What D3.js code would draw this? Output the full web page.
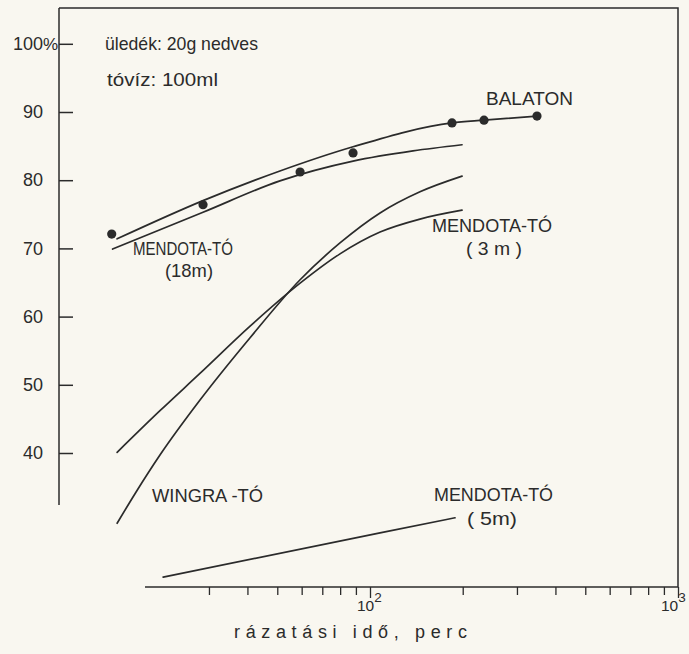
<!DOCTYPE html>
<html>
<head>
<meta charset="utf-8">
<script src="https://cdn.jsdelivr.net/npm/d3@7"></script>
<style>
  html, body { margin: 0; padding: 0; background: #f9f7f0; }
  svg { display: block; }
  text { font-family: "Liberation Sans", Arial, sans-serif; fill: #2b2b2b; }
</style>
</head>
<body>
<svg id="chart" width="689" height="654"></svg>
<script>
// Shaking time (minutes) and dissolved share (%) for each lake sediment
const balatonTime = [14.5, 28.7, 59.3, 88.1, 184.6, 234.5, 348.5];
const balatonPct  = [72.1, 76.4, 81.2, 84.0, 88.4, 88.8, 89.4];

const balatonCurveTime = [15.1, 28.7, 51.0, 88.1, 184.6, 234.5, 348.5];
const balatonCurvePct  = [71.4, 77.0, 81.35, 84.9, 88.4, 88.8, 89.4];

const mendota18Time = [14.6, 28.7, 51.0, 88.1, 137.9, 199];
const mendota18Pct  = [69.9, 75.3, 79.9, 82.8, 84.3, 85.2];

const mendota3Time = [15.1, 20.8, 28.1, 40.8, 59.3, 79.9, 107.8, 145.3, 199];
const mendota3Pct  = [40.1, 46.2, 51.7, 58.6, 64.9, 69.2, 72.4, 74.3, 75.6];

const wingraTime = [15.1, 17.3, 20.8, 28.1, 40.8, 59.3, 79.9, 107.8, 145.3, 199];
const wingraPct  = [29.7, 34.1, 39.7, 47.8, 56.9, 65.4, 70.8, 75.2, 78.3, 80.6];

const mendota5Time = [21.3, 107.8, 188.8];
const mendota5Pct  = [21.8, 28.3, 30.5];

const yTicks = [40, 50, 60, 70, 80, 90, 100];
const xTicks = [30, 40, 50, 60, 70, 80, 90, 100, 200, 300, 400, 500, 600, 700, 800, 900, 1000];
const xLabelExp = { 100: "2", 1000: "3" };
const timeAxisStart = 18.6;

const ink = "#2b2b2b";
const svg = d3.select("#chart");

const x = d3.scaleLog().domain([10, 1000]).range([62, 678]);
const y = d3.scaleLinear().domain([20, 100]).range([589.4, 43.8]);

const frameLeft = 59, frameTop = 8, frameRight = 678, axisY = 587, leftAxisBottom = 505;

// frame: top edge and right edge
svg.append("path")
  .attr("d", `M${frameLeft},${frameTop}H${frameRight}V${axisY}`)
  .attr("fill", "none").attr("stroke", ink).attr("stroke-width", 1.5);

// y axis
const yAxis = svg.append("g").attr("transform", `translate(${frameLeft},0)`)
  .call(d3.axisLeft(y).tickValues(yTicks).tickSizeInner(-14).tickSizeOuter(0).tickPadding(16)
    .tickFormat(d => d === 100 ? "100" : d));
yAxis.select(".domain").remove();
yAxis.append("line").attr("x1", 0).attr("x2", 0).attr("y1", frameTop).attr("y2", leftAxisBottom)
  .attr("stroke", ink).attr("stroke-width", 1.5);
yAxis.selectAll(".tick line").attr("stroke", ink).attr("stroke-width", 1.5);
yAxis.selectAll(".tick text").attr("font-size", 18).attr("fill", ink)
  .style("font-family", '"Liberation Sans", Arial, sans-serif');
yAxis.selectAll(".tick").filter(d => d === 100).append("text")
  .attr("x", -16).attr("dy", "0.32em").attr("text-anchor", "start")
  .attr("font-size", 17).attr("fill", ink).text("%");

// x axis (log time)
const xAxis = svg.append("g").attr("transform", `translate(0,${axisY})`)
  .call(d3.axisBottom(x).tickValues(xTicks).tickSizeInner(8).tickSizeOuter(0).tickFormat(""));
xAxis.select(".domain").remove();
xAxis.append("line").attr("x1", x(timeAxisStart)).attr("x2", frameRight).attr("y1", 0).attr("y2", 0)
  .attr("stroke", ink).attr("stroke-width", 1.5);
xAxis.selectAll(".tick line").attr("stroke", ink).attr("stroke-width", 1.3)
  .attr("y2", d => xLabelExp[d] ? 11 : 8);

// decade labels written as powers of ten
const powLabels = svg.append("g");
Object.keys(xLabelExp).forEach(k => {
  const shift = +k === 1000 ? 17 : 13;
  const t = powLabels.append("text").attr("x", x(+k) - shift).attr("y", 611).attr("text-anchor", "start")
    .attr("font-size", 15.5);
  t.append("tspan").text("10");
  t.append("tspan").attr("dy", -9).attr("font-size", 13.5).text(xLabelExp[k]);
});

svg.append("text").attr("x", 234).attr("y", 638).attr("font-size", 18)
  .attr("textLength", 233).attr("lengthAdjust", "spacing").text("rázatási idő, perc");

// curves
const line = d3.line().x(d => x(d[0])).y(d => y(d[1])).curve(d3.curveMonotoneX);
const series = [
  [balatonCurveTime, balatonCurvePct],
  [mendota18Time, mendota18Pct],
  [mendota3Time, mendota3Pct],
  [wingraTime, wingraPct],
  [mendota5Time, mendota5Pct]
];
svg.append("g").selectAll("path").data(series).join("path")
  .attr("d", s => line(d3.zip(s[0], s[1])))
  .attr("fill", "none").attr("stroke", ink).attr("stroke-width", 1.7)
  .attr("stroke-linecap", "round");

// measured Balaton points
svg.append("g").selectAll("circle").data(d3.zip(balatonTime, balatonPct)).join("circle")
  .attr("cx", d => x(d[0])).attr("cy", d => y(d[1])).attr("r", 4.6).attr("fill", ink);

// annotations and series labels
const labels = [
  { text: "üledék: 20g nedves", x: 105, y: 50, w: 153 },
  { text: "tóvíz: 100ml", x: 107, y: 86, w: 111 },
  { text: "BALATON", x: 486, y: 105, w: 87 },
  { text: "MENDOTA-TÓ", x: 133, y: 255, w: 100 },
  { text: "(18m)", x: 165, y: 277, w: 48 },
  { text: "MENDOTA-TÓ", x: 432, y: 232, w: 120 },
  { text: "( 3 m )", x: 466, y: 255, w: 56 },
  { text: "WINGRA -TÓ", x: 152, y: 502, w: 111 },
  { text: "MENDOTA-TÓ", x: 434, y: 501, w: 119 },
  { text: "( 5m)", x: 467, y: 525, w: 50 }
];
svg.append("g").selectAll("text").data(labels).join("text")
  .attr("x", d => d.x).attr("y", d => d.y).attr("font-size", 18.5)
  .attr("textLength", d => d.w).attr("lengthAdjust", "spacingAndGlyphs")
  .text(d => d.text);
</script>
</body>
</html>
